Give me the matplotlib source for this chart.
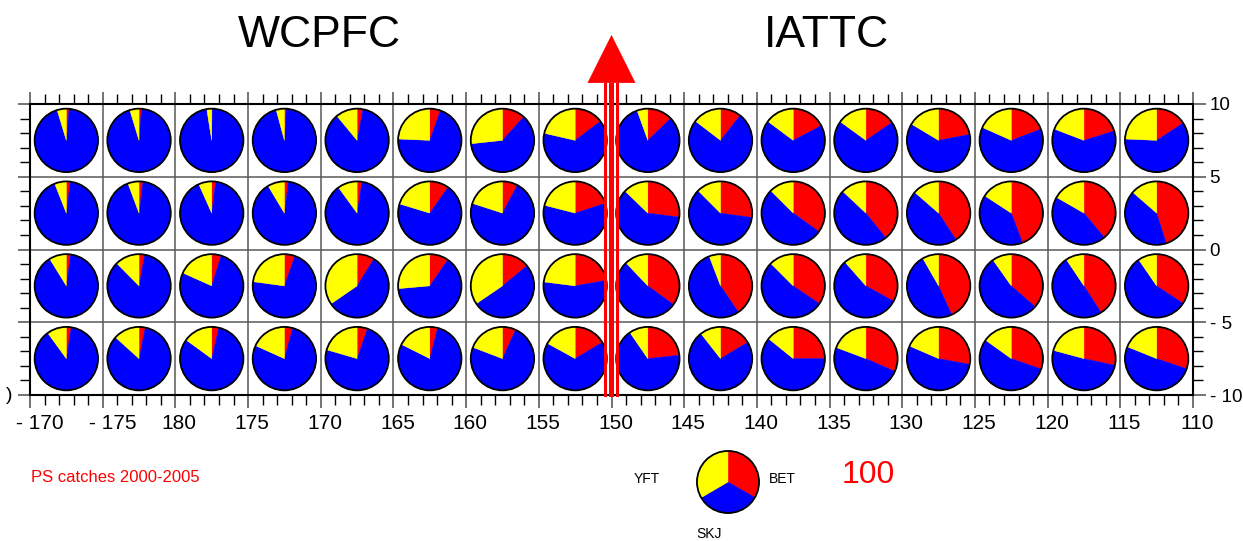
import matplotlib
matplotlib.use("Agg")
import matplotlib.pyplot as plt
import matplotlib.font_manager as fm
from matplotlib.patches import Wedge, Circle, Rectangle, Polygon
from matplotlib.ticker import MultipleLocator, FixedLocator
from matplotlib.transforms import ScaledTranslation

# ---------------- data ----------------
species = ["BET", "SKJ", "YFT"]
species_colors = ["#ff0000", "#0000ff", "#ffff00"]

# cell centres: x = negative west longitude (170E shown as "-170"), y = latitude
lon_centers = [-187.5, -182.5, -177.5, -172.5, -167.5, -162.5, -157.5, -152.5,
               -147.5, -142.5, -137.5, -132.5, -127.5, -122.5, -117.5, -112.5]
lat_centers = [7.5, 2.5, -2.5, -7.5]

x_tick_pos = [-190, -185, -180, -175, -170, -165, -160, -155, -150,
              -145, -140, -135, -130, -125, -120, -115, -110]
x_tick_labels = ["- 170", "- 175", "180", "175", "170", "165", "160", "155", "150",
                 "145", "140", "135", "130", "125", "120", "115", "110"]
y_tick_pos = [10, 5, 0, -5, -10]
y_tick_labels = ["10", "5", "0", "- 5", "- 10"]

# percentage of catch per cell (rows = lat_centers, cols = lon_centers)
bet = [
    [1.4, 1.2, 0.3, 1.0, 3.0, 5.4, 11.7, 14.7, 12.8, 10.6, 17.3, 15.4, 22.0, 19.2, 20.2, 15.8],
    [2.0, 2.0, 2.0, 2.0, 2.5, 9.8, 7.8, 20.0, 27.0, 27.2, 34.9, 39.2, 40.8, 44.2, 38.9, 45.1],
    [2.2, 2.9, 4.8, 5.4, 8.9, 9.6, 14.1, 22.2, 35.0, 40.5, 34.5, 33.0, 43.2, 36.4, 40.9, 34.3],
    [2.5, 3.2, 3.6, 4.2, 5.3, 4.0, 6.8, 16.4, 23.3, 16.4, 25.0, 31.6, 27.9, 30.3, 28.4, 30.2],
]
skj = [
    [93.9, 94.1, 97.2, 94.8, 86.0, 70.3, 61.6, 63.9, 81.7, 74.8, 67.9, 69.6, 61.6, 62.5, 60.6, 59.9],
    [92.0, 92.3, 91.3, 89.4, 87.5, 69.9, 72.2, 59.0, 60.2, 60.3, 52.6, 47.8, 45.6, 40.0, 44.4, 41.3],
    [89.0, 84.7, 76.9, 71.7, 56.5, 64.0, 51.4, 54.8, 52.9, 53.7, 53.0, 55.5, 48.5, 53.8, 49.7, 56.1],
    [87.5, 83.5, 81.4, 77.5, 74.2, 78.4, 74.0, 66.6, 67.1, 73.0, 60.8, 49.1, 53.6, 54.6, 50.8, 50.9],
]
yft = [
    [4.7, 4.7, 2.5, 4.2, 11.0, 24.3, 26.7, 21.4, 5.5, 14.6, 14.8, 15.0, 16.4, 18.3, 19.2, 24.3],
    [6.0, 5.7, 6.7, 8.6, 10.0, 20.3, 20.0, 21.0, 12.8, 12.5, 12.5, 13.0, 13.6, 15.8, 16.7, 13.6],
    [8.8, 12.4, 18.3, 22.9, 34.6, 26.4, 34.5, 23.0, 12.1, 5.8, 12.5, 11.5, 8.3, 9.8, 9.4, 9.6],
    [10.0, 13.3, 15.0, 18.3, 20.5, 17.6, 19.2, 17.0, 9.6, 10.6, 14.2, 19.3, 18.5, 15.1, 20.8, 18.9],
]

legend_values = [33.3, 33.3, 33.4]
legend_scale_label = "100"
boundary_lon = -150
title_left = "WCPFC"
title_right = "IATTC"
caption = "PS catches 2000-2005"

# ---------------- figure ----------------
W, H = 1243, 541
fig = plt.figure(figsize=(W / 100, H / 100), dpi=100)
fig.patch.set_facecolor("white")

names = {f.name for f in fm.fontManager.ttflist}
base_font = "Liberation Sans" if "Liberation Sans" in names else "DejaVu Sans"
has_narrow = "Liberation Sans Narrow" in names
narrow_font = "Liberation Sans Narrow" if has_narrow else base_font
plt.rcParams["font.family"] = [base_font, "DejaVu Sans"]


def px(x, y):
    return x / W, 1 - y / H


ax = fig.add_axes([30 / W, (H - 395) / H, (1193 - 30) / W, (395 - 104) / H])
ax.set_xlim(x_tick_pos[0], x_tick_pos[-1])
ax.set_ylim(y_tick_pos[-1], y_tick_pos[0])

R = 2.18


def draw_pie(axis, cx, cy, r, vals, clip=True):
    total = float(sum(vals))
    start = 90.0
    for v, c in zip(vals, species_colors):
        ang = 360.0 * v / total
        if ang > 0:
            axis.add_patch(Wedge((cx, cy), r, start - ang, start, facecolor=c,
                                 edgecolor=c, lw=0.3, zorder=3, clip_on=clip))
        start -= ang
    axis.add_patch(Circle((cx, cy), r, fill=False, edgecolor="black", lw=1.3,
                          zorder=4, clip_on=clip))


for i, lat in enumerate(lat_centers):
    for j, lon in enumerate(lon_centers):
        draw_pie(ax, lon, lat, R, [bet[i][j], skj[i][j], yft[i][j]])

# axes styling
for s in ax.spines.values():
    s.set_color("black")
    s.set_linewidth(1.5)
    s.set_zorder(6)

ax.xaxis.set_major_locator(FixedLocator(x_tick_pos))
ax.set_xticklabels(x_tick_labels)
ax.yaxis.set_major_locator(FixedLocator(y_tick_pos))
ax.set_yticklabels(y_tick_labels)
ax.xaxis.set_minor_locator(MultipleLocator(1))
ax.yaxis.set_minor_locator(MultipleLocator(1))
ax.grid(which="major", color="0.35", lw=1.1, zorder=1)
ax.set_axisbelow(True)

ax.tick_params(axis="x", which="both", top=True, bottom=True, direction="out",
               labeltop=False, labelbottom=True)
ax.tick_params(axis="x", which="major", length=9, width=1.1, color="0.3",
               labelsize=15, pad=5)
ax.tick_params(axis="x", which="minor", length=7, width=1.0, color="black")
ax.tick_params(axis="y", which="both", left=True, right=True, direction="out",
               labelleft=False, labelright=True)
ax.tick_params(axis="y", which="major", length=9, width=1.1, color="0.3",
               labelsize=13.5, pad=3)
ax.tick_params(axis="y", which="minor", length=7, width=1.0, color="black")

for lbl in ax.get_xticklabels():
    dx = 10 if lbl.get_text().startswith("-") else 4
    lbl.set_transform(lbl.get_transform() + ScaledTranslation(dx / 100, 0, fig.dpi_scale_trans))

# boundary arrow (150W)
pxdeg = (1193 - 30) / 80.0
def dpx(p):
    return p / pxdeg

bar_specs = [(-7.7, -4.9), (-2.0, 2.2), (4.2, 7.3)]
for a, b in bar_specs:
    ax.add_patch(Rectangle((boundary_lon + dpx(a), -10.15), dpx(b - a), 11.46 + 10.15,
                           facecolor="#ff0000", edgecolor="none", zorder=7, clip_on=False))
ax.add_patch(Polygon([(boundary_lon - dpx(24), 11.45), (boundary_lon + dpx(24), 11.45),
                      (boundary_lon, 14.75)], closed=True, facecolor="#ff0000",
                     edgecolor="none", zorder=7, clip_on=False))

# titles
fig.text(*px(319, 46.7), title_left, ha="center", va="baseline", fontsize=32, color="black")
fig.text(*px(826, 46.7), title_right, ha="center", va="baseline", fontsize=32, color="black")

# clipped left label
fig.text(*px(9.5, 395), ")", ha="center", va="center", fontsize=14, color="black")

# caption
cap_size = 14 if has_narrow else 12
fig.text(*px(31, 481.7), caption, ha="left", va="baseline", fontsize=cap_size,
         color="#ff0000", family=[narrow_font, "DejaVu Sans"])

# legend pie
lax = fig.add_axes([696 / W, (H - 514) / H, 64 / W, 64 / H])
lax.set_xlim(-1, 1)
lax.set_ylim(-1, 1)
lax.axis("off")
draw_pie(lax, 0, 0, 0.97, legend_values, clip=False)

lab_size = 11 if has_narrow else 10
fig.text(*px(647, 482.7), species[2], ha="center", va="baseline", fontsize=lab_size,
         family=[narrow_font, "DejaVu Sans"])
fig.text(*px(782.5, 482.7), species[0], ha="center", va="baseline", fontsize=lab_size,
         family=[narrow_font, "DejaVu Sans"])
fig.text(*px(709, 538), species[1], ha="center", va="baseline", fontsize=lab_size,
         family=[narrow_font, "DejaVu Sans"])
fig.text(*px(868.5, 482.7), legend_scale_label, ha="center", va="baseline", fontsize=23,
         color="#ff0000")

fig.savefig("out.png", dpi=100, facecolor="white")
